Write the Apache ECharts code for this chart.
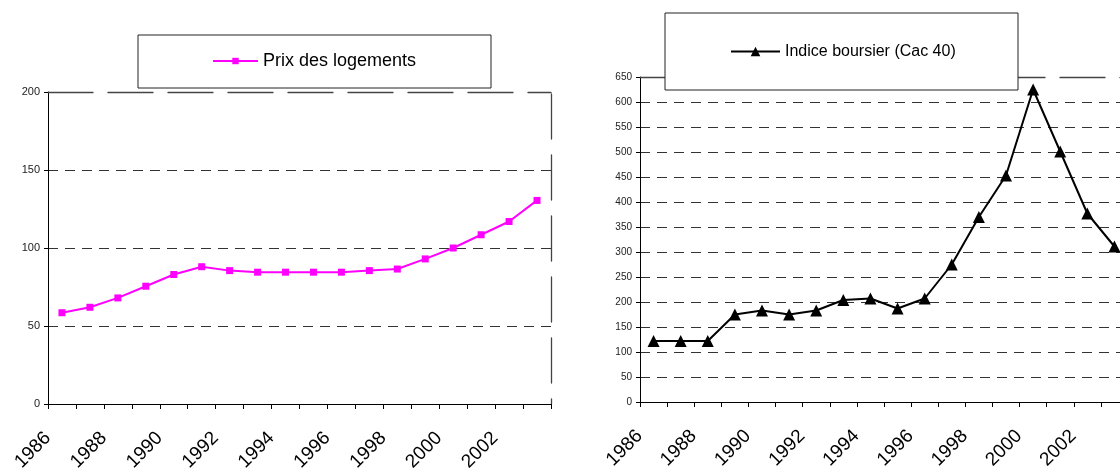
<!DOCTYPE html>
<html>
<head>
<meta charset="utf-8">
<script src="https://cdn.jsdelivr.net/npm/echarts@6/dist/echarts.min.js"></script>
<style>
html,body{margin:0;padding:0;background:#fff;}
#c{width:1120px;height:470px;}
</style>
</head>
<body>
<div id="c"></div>
<script>
const years = ['1986','1987','1988','1989','1990','1991','1992','1993','1994','1995','1996','1997','1998','1999','2000','2001','2002','2003'];
const prixLogements = [58.5, 62, 68, 75.5, 83, 88, 85.5, 84.5, 84.5, 84.5, 84.5, 85.5, 86.5, 93, 100, 108.5, 117, 130.5];
const cac40 = [122, 122, 122, 175, 183, 175, 183, 204, 207, 187, 207, 275, 370, 453, 625, 501, 377, 311];
const leftTicks = {min: 0, max: 200, interval: 50};
const rightTicks = {min: 0, max: 650, interval: 50};
const nameLeft = 'Prix des logements';
const nameRight = 'Indice boursier (Cac 40)';

const FONT = '"Liberation Sans", Arial, sans-serif';
const chart = echarts.init(document.getElementById('c'), null, {renderer: 'canvas'});

function catAxis(gi) {
  return {
    type: 'category', gridIndex: gi, data: years, boundaryGap: true,
    axisLine: {show: true, onZero: false, lineStyle: {color: '#000', width: 1}},
    axisTick: {show: true, length: 5, inside: false, interval: 0, lineStyle: {color: '#000'}},
    axisLabel: {interval: 1, rotate: 45, margin: 17, padding: [0, 20, 0, 0], fontFamily: FONT, fontSize: 19, color: '#000', hideOverlap: false},
    splitLine: {show: false}
  };
}
function borderX(gi) {
  return {
    type: 'category', gridIndex: gi, data: years, position: 'top',
    axisLine: {show: true, onZero: false, lineStyle: {color: '#444', width: 1.3, type: [45, 15]}},
    axisTick: {show: false}, axisLabel: {show: false}, splitLine: {show: false}
  };
}
function valAxis(gi, t, fs, margin) {
  return {
    type: 'value', gridIndex: gi, min: t.min, max: t.max, interval: t.interval,
    axisLine: {show: true, lineStyle: {color: '#000', width: 1}},
    axisTick: {show: true, length: 4, lineStyle: {color: '#000'}},
    axisLabel: {fontFamily: FONT, fontSize: fs, color: '#222', margin: margin},
    splitLine: {show: true, showMaxLine: false, lineStyle: {color: '#333', width: 1, type: [10, 7]}}
  };
}
function borderY(gi, t) {
  return {
    type: 'value', gridIndex: gi, min: t.min, max: t.max, interval: t.interval, position: 'right',
    axisLine: {show: true, lineStyle: {color: '#444', width: 1.3, type: [45, 16], dashOffset: 40}},
    axisTick: {show: false}, axisLabel: {show: false}, splitLine: {show: false}
  };
}

chart.setOption({
  animation: false,
  backgroundColor: '#fff',
  grid: [
    {left: 48, right: 569, top: 92, bottom: 66, containLabel: false, outerBoundsMode: 'none'},
    {left: 640, right: -8, top: 77, bottom: 68, containLabel: false, outerBoundsMode: 'none'}
  ],
  xAxis: [catAxis(0), catAxis(1), borderX(0), borderX(1)],
  yAxis: [valAxis(0, leftTicks, 11, 8), valAxis(1, rightTicks, 10, 8), borderY(0, leftTicks), borderY(1, rightTicks)],
  legend: [
    {
      data: [nameLeft], left: 138, top: 35, orient: 'horizontal',
      padding: [17, 28, 18, 74], itemWidth: 45, itemHeight: 8, itemGap: 0,
      backgroundColor: '#fff', borderColor: '#222', borderWidth: 1, borderRadius: 0,
      textStyle: {fontFamily: FONT, fontSize: 18, color: '#000', width: 200, lineHeight: 18, overflow: 'none'},
      z: 10
    },
    {
      data: [nameRight], left: 665, top: 13, orient: 'horizontal',
      padding: [30, 33, 30, 65], itemWidth: 49, itemHeight: 12, itemGap: 0,
      backgroundColor: '#fff', borderColor: '#222', borderWidth: 1, borderRadius: 0,
      textStyle: {fontFamily: FONT, fontSize: 16, color: '#000', width: 200, lineHeight: 17, overflow: 'none'},
      z: 10
    }
  ],
  series: [
    {
      name: nameLeft, type: 'line', xAxisIndex: 0, yAxisIndex: 0, data: prixLogements,
      symbol: 'rect', symbolSize: 7, showAllSymbol: true,
      lineStyle: {color: '#ff00ff', width: 2}, itemStyle: {color: '#ff00ff'}, z: 3
    },
    {
      name: nameRight, type: 'line', xAxisIndex: 1, yAxisIndex: 1, data: cac40,
      symbol: 'triangle', symbolSize: 12, showAllSymbol: true,
      lineStyle: {color: '#000', width: 2}, itemStyle: {color: '#000'}, z: 3
    }
  ]
});
</script>
</body>
</html>
